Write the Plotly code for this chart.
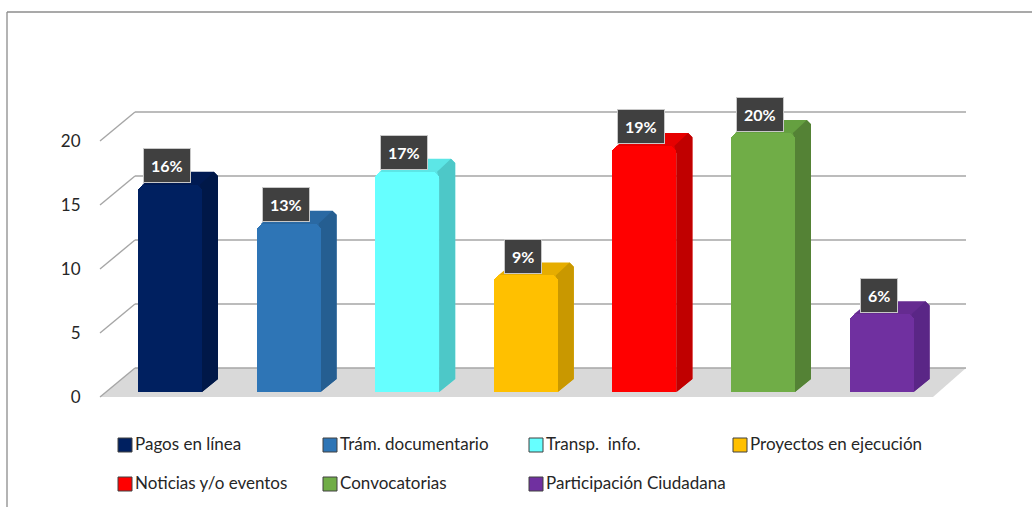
import plotly.graph_objects as go

# ---- data -------------------------------------------------------------
categories = [
    "Pagos en línea",
    "Trám. documentario",
    "Transp.  info.",
    "Proyectos en ejecución",
    "Noticias y/o eventos",
    "Convocatorias",
    "Participación Ciudadana",
]
values = [16, 13, 17, 9, 19, 20, 6]
tick_vals = [0, 5, 10, 15, 20]

front_colors = ["#002060", "#2E75B6", "#66FFFF", "#FFC000", "#FF0000", "#70AD47", "#7030A0"]
side_colors = ["#001848", "#255E91", "#4DC8C8", "#C99800", "#C00000", "#548235", "#5A2686"]
top_colors = ["#001A52", "#2A69A3", "#5CE6E6", "#E6AD00", "#E60000", "#65A040", "#652B90"]

# ---- canvas geometry (pixels) -----------------------------------------
W, H = 1032, 507
CAT0, CAT_STEP = 170.0, 118.6        # x pixel of first category centre, spacing
BAR_ZERO, BAR_SCALE = 392.0, 12.95   # bar plane: y pixel of 0, pixels per unit
FRONT_ZERO, BACK_ZERO, PLANE_SCALE = 397.0, 368.0, 12.8
FRONT_X, BACK_X, BACK_RIGHT, FRONT_RIGHT = 100.0, 135.0, 966.0, 933.0
DEPTH_DX, DEPTH_DY = 16.0, 13.0      # 3-D extrusion of the bars, pixels
BAR_W = 64.0 / CAT_STEP
RADIUS = 7                           # rounded top corners of the bars, pixels


def px(xp):
    return xp / W


def py(yp):
    return 1 - yp / H


def front_y(v):
    return FRONT_ZERO - PLANE_SCALE * v


def back_y(v):
    return BACK_ZERO - PLANE_SCALE * v


x_range = [-CAT0 / CAT_STEP, (W - CAT0) / CAT_STEP]
y_range = [-(H - BAR_ZERO) / BAR_SCALE, BAR_ZERO / BAR_SCALE]
y2_range = [-(H - FRONT_ZERO) / PLANE_SCALE, FRONT_ZERO / PLANE_SCALE]
dx = DEPTH_DX / CAT_STEP
dy = DEPTH_DY / BAR_SCALE
rx = RADIUS / CAT_STEP
ry = RADIUS / BAR_SCALE

shapes = []
grid_col = "#A6A6A6"

# floor
shapes.append(dict(
    type="path", xref="paper", yref="paper", layer="below",
    path=(f"M{px(FRONT_X)},{py(front_y(0))} L{px(BACK_X)},{py(back_y(0))} "
          f"L{px(BACK_RIGHT)},{py(back_y(0))} L{px(FRONT_RIGHT)},{py(front_y(0))} Z"),
    fillcolor="#D9D9D9", line=dict(width=0),
))
# back wall gridlines and side-wall diagonals
for v in tick_vals:
    shapes.append(dict(type="line", xref="paper", yref="paper", layer="below",
                       x0=px(BACK_X), x1=px(BACK_RIGHT), y0=py(back_y(v)), y1=py(back_y(v)),
                       line=dict(color=grid_col, width=1.6)))
    shapes.append(dict(type="line", xref="paper", yref="paper", layer="below",
                       x0=px(FRONT_X), x1=px(BACK_X), y0=py(front_y(v)), y1=py(back_y(v)),
                       line=dict(color=grid_col, width=1.4)))

# extruded side and top faces of each bar (drawn under the front faces)
for i, v in enumerate(values):
    xl, xr = i - BAR_W / 2, i + BAR_W / 2
    shapes.append(dict(
        type="path", xref="x", yref="y", layer="below",
        path=(f"M{xl + rx * 0.6},{v} L{xl + dx + rx * 0.6},{v + dy} "
              f"L{xr + dx - rx * 0.6},{v + dy} L{xr + dx},{v + dy - ry * 0.6} "
              f"L{xr + dx},{dy} L{xr},0 L{xr},{v - ry} L{xr - rx},{v - ry} Z"),
        fillcolor=top_colors[i], line=dict(width=0),
    ))
    shapes.append(dict(
        type="path", xref="x", yref="y", layer="below",
        path=(f"M{xr},0 L{xr + dx},{dy} L{xr + dx},{v + dy - ry * 0.6} "
              f"L{xr + dx - rx * 0.6},{v + dy} L{xr - rx * 0.3},{v} L{xr},{v - ry} Z"),
        fillcolor=side_colors[i], line=dict(width=0),
    ))

# chart frame
shapes.append(dict(type="line", xref="paper", yref="paper", x0=px(7), x1=px(W + 5),
                   y0=py(12), y1=py(12), line=dict(color="#8C8C8C", width=1.3)))
shapes.append(dict(type="line", xref="paper", yref="paper", x0=px(7), x1=px(7),
                   y0=py(12), y1=py(H + 5), line=dict(color="#8C8C8C", width=1.3)))

fig = go.Figure()
fig.add_trace(go.Bar(
    x=categories, y=values, width=BAR_W,
    marker=dict(color=front_colors, line=dict(width=0), cornerradius=RADIUS),
    hoverinfo="skip", showlegend=False,
))
# invisible trace to bind the front-plane value axis
fig.add_trace(go.Scatter(x=[categories[0]], y=[0], yaxis="y2", mode="markers",
                         marker=dict(opacity=0), hoverinfo="skip", showlegend=False))

annotations = []
# value labels
for c, v in zip(categories, values):
    annotations.append(dict(
        x=c, y=v, xref="x", yref="y", text=f"<b>{v}%</b>", showarrow=False,
        xshift=-3, yshift=19, bgcolor="#404040", bordercolor="#C8C8C8", borderwidth=1,
        borderpad=7, font=dict(family="Lato", size=16, color="white"),
    ))

# legend
legend_cols = [118, 323, 529, 733]
legend_rows = [445, 484]
for i, (c, col) in enumerate(zip(categories, front_colors)):
    r, k = divmod(i, 4)
    x0, yc = legend_cols[k], legend_rows[r]
    shapes.append(dict(type="rect", xref="paper", yref="paper",
                       x0=px(x0), x1=px(x0 + 14), y0=py(yc - 7), y1=py(yc + 7),
                       fillcolor=col, line=dict(color="#404040", width=1)))
    annotations.append(dict(
        x=px(x0 + 15), y=py(yc - 2), xref="paper", yref="paper",
        text=c.replace("  ", "&nbsp; "), showarrow=False, xanchor="left", yanchor="middle",
        font=dict(family="Lato", size=17, color="#262626"),
    ))

fig.update_layout(
    width=W, height=H, template="none",
    margin=dict(l=0, r=0, t=0, b=0),
    paper_bgcolor="white", plot_bgcolor="white",
    bargap=0,
    xaxis=dict(range=x_range, showticklabels=False, showgrid=False, zeroline=False,
               showline=False, ticks="", fixedrange=True),
    yaxis=dict(range=y_range, showticklabels=False, showgrid=False, zeroline=False,
               showline=False, ticks="", fixedrange=True),
    yaxis2=dict(range=y2_range, overlaying="y", anchor="free", position=px(FRONT_X),
                side="left", tickvals=tick_vals, showgrid=False, zeroline=False,
                showline=False, ticks="outside", ticklen=16, tickcolor="rgba(0,0,0,0)",
                tickfont=dict(family="Lato", size=17, color="#262626"), fixedrange=True),
    shapes=shapes,
    annotations=annotations,
    showlegend=False,
)

fig.write_html("out.html")
